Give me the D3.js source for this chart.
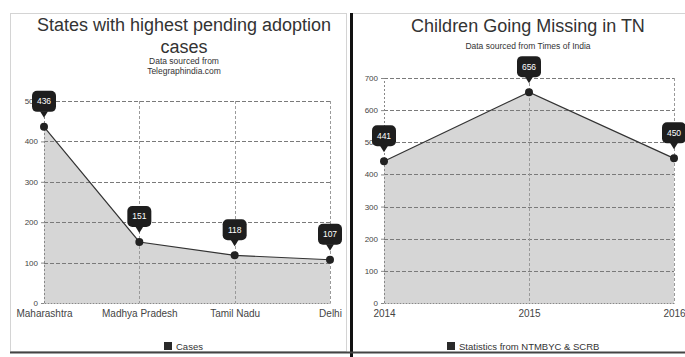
<!DOCTYPE html>
<html><head><meta charset="utf-8">
<script src="https://cdn.jsdelivr.net/npm/d3@7"></script>
<style>body{margin:0;background:#fff}svg{display:block;font-family:"Liberation Sans",Arial,sans-serif}</style>
</head><body>
<svg id="c" width="685" height="357"></svg>
<script>
const statesCategories = ["Maharashtra", "Madhya Pradesh", "Tamil Nadu", "Delhi"];
const statesCases = [436, 151, 118, 107];
const statesTicks = [0, 100, 200, 300, 400, 500];
const yearCategories = ["2014", "2015", "2016"];
const yearMissing = [441, 656, 450];
const yearTicks = [0, 100, 200, 300, 400, 500, 600, 700];

const svg = d3.select("#c");

// panel frames
svg.append("rect").attr("x", 10.5).attr("y", 13.5).attr("width", 336).attr("height", 338)
  .attr("fill", "none").attr("stroke", "#d4d4d4");
svg.append("line").attr("x1", 351.5).attr("x2", 351.5).attr("y1", 13).attr("y2", 357)
  .attr("stroke", "#111").attr("stroke-width", 3);
svg.append("line").attr("x1", 353).attr("x2", 685).attr("y1", 13.5).attr("y2", 13.5)
  .attr("stroke", "#d4d4d4");
svg.append("line").attr("x1", 10).attr("x2", 685).attr("y1", 352.5).attr("y2", 352.5)
  .attr("stroke", "#444").attr("stroke-width", 2);

function drawChart(o) {
  const g = svg.append("g");
  const x = d3.scalePoint().domain(o.cats).range([o.x0, o.x1]);
  const y = d3.scaleLinear().domain([0, o.max]).range([303, o.yTop]);
  const data = o.cats.map((c, i) => ({c, v: o.vals[i]}));

  // area
  g.append("path").datum(data)
    .attr("d", d3.area().x(d => x(d.c)).y0(y(0)).y1(d => y(d.v)))
    .attr("fill", "#d6d6d6");

  // grid horizontal
  g.selectAll(".hg").data(o.ticks.slice(1)).join("line")
    .attr("x1", o.x0).attr("x2", o.x1)
    .attr("y1", d => Math.round(y(d)) + 0.5).attr("y2", d => Math.round(y(d)) + 0.5)
    .attr("stroke", "#7a7a7a").attr("stroke-dasharray", "4,2");
  // grid vertical
  g.selectAll(".vg").data(o.cats.slice(1)).join("line")
    .attr("x1", d => Math.round(x(d)) + 0.5).attr("x2", d => Math.round(x(d)) + 0.5)
    .attr("y1", y(o.max)).attr("y2", y(0))
    .attr("stroke", "#9a9a9a").attr("stroke-dasharray", "3,2");

  // axes
  const ya = g.append("g").attr("transform", `translate(${o.x0},0)`)
    .call(d3.axisLeft(y).tickValues(o.ticks).tickSize(3).tickFormat(d3.format("d")));
  ya.select(".domain").attr("stroke", "#888").attr("stroke-dasharray", "2,2");
  ya.selectAll(".tick line").attr("stroke", "#888");
  ya.selectAll("text").attr("font-size", 8).attr("fill", "#444").attr("font-family", "Liberation Sans, Arial");

  const xa = g.append("g").attr("transform", `translate(0,303)`)
    .call(d3.axisBottom(x).tickSize(0).tickPadding(7));
  xa.select(".domain").attr("stroke", "#888").attr("stroke-dasharray", "2,1");
  xa.selectAll("text").attr("font-size", 10).attr("fill", "#444").attr("font-family", "Liberation Sans, Arial");

  // line
  g.append("path").datum(data)
    .attr("d", d3.line().x(d => x(d.c)).y(d => y(d.v)))
    .attr("fill", "none").attr("stroke", "#333").attr("stroke-width", 1.2);

  // points
  g.selectAll(".pt").data(data).join("circle")
    .attr("cx", d => x(d.c)).attr("cy", d => y(d.v)).attr("r", 4).attr("fill", "#222");

  // callouts
  const cl = g.selectAll(".cl").data(data).join("g")
    .attr("transform", d => `translate(${x(d.c)},${y(d.v)})`);
  cl.append("rect").attr("x", -12).attr("y", -36).attr("width", 24).attr("height", 21).attr("rx", 5)
    .attr("fill", "#1e1e1e");
  cl.append("path").attr("d", "M-4,-15.5L0,-9L4,-15.5Z").attr("fill", "#1e1e1e");
  cl.append("text").attr("y", -22.5).attr("text-anchor", "middle").attr("font-size", 8.5)
    .attr("fill", "#fff").text(d => d.v);

  // titles
  o.title.forEach((t, i) => {
    g.append("text").attr("x", o.tx).attr("y", o.ty[i]).attr("text-anchor", "middle")
      .attr("font-size", 18).attr("fill", "#333").text(t);
  });
  o.sub.forEach((t, i) => {
    g.append("text").attr("x", o.tx).attr("y", o.sy[i]).attr("text-anchor", "middle")
      .attr("font-size", 8.5).attr("fill", "#333").text(t);
  });

  // legend
  const lg = g.append("g");
  lg.append("rect").attr("x", o.lx).attr("y", 342).attr("width", 8).attr("height", 8).attr("fill", "#2a2a2a");
  lg.append("text").attr("x", o.lx + 12).attr("y", 349.5).attr("font-size", 9.5).attr("fill", "#333").text(o.legend);
}

drawChart({
  cats: statesCategories, vals: statesCases, ticks: statesTicks, max: 500,
  x0: 44, x1: 330, yTop: 101,
  title: ["States with highest pending adoption", "cases"], tx: 184, ty: [31, 53],
  sub: ["Data sourced from", "Telegraphindia.com"], sy: [63.5, 73.5],
  legend: "Cases", lx: 164
});
drawChart({
  cats: yearCategories, vals: yearMissing, ticks: yearTicks, max: 700,
  x0: 384, x1: 674, yTop: 78,
  title: ["Children Going Missing in TN"], tx: 528, ty: [32],
  sub: ["Data sourced from Times of India"], sy: [49],
  legend: "Statistics from NTMBYC & SCRB", lx: 447
});
</script>
</body></html>
